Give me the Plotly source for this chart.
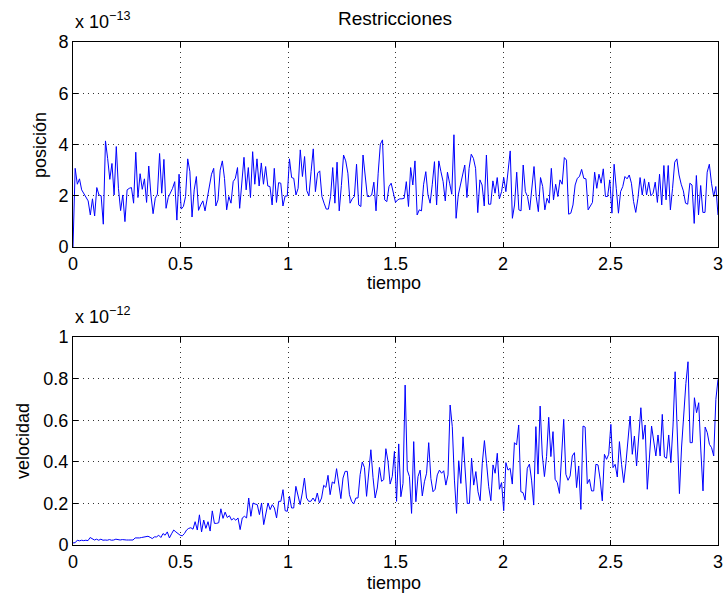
import numpy as np
import plotly.graph_objects as go

# posición (x 1e-13)
posicion = [
 0, 3.07, 2.45, 2.66, 2.23, 2.07, 1.93, 1.8, 1.25, 1.88, 1.21, 2.32, 2.03, 2.0, 0.89, 4.14, 3.46, 2.64, 3.26, 2.03,
 3.92, 2.29, 1.42, 2.03, 0.99, 2.23, 2.29, 2.32, 1.71, 3.7, 1.93, 2.86, 2.25, 2.66, 1.74, 3.16, 2.03, 1.3, 1.9, 2.06,
 3.65, 2.1, 3.42, 1.51, 1.93, 2.1, 2.29, 2.55, 1.05, 2.84, 1.48, 1.58, 1.97, 3.44, 2.94, 1.17, 2.23, 2.75, 1.43, 1.64,
 1.8, 1.41, 1.84, 2.33, 2.84, 3.07, 1.6, 1.84, 3.0, 3.36, 2.67, 1.45, 1.97, 1.71,
 2.55, 2.68, 3.1, 1.51, 2.49, 3.5, 2.23, 3.1, 1.93, 3.72, 2.45, 3.44, 2.38, 3.28, 2.45, 3.14, 2.38, 2.36, 1.64, 3.07,
 1.74, 2.51, 2.49, 1.6, 1.99, 1.99, 3.44, 2.71, 2.68, 2.03, 2.29, 3.79, 2.75, 3.53, 2.2, 2.0, 2.94, 3.83, 2.16, 2.88,
 2.97, 1.97, 1.71, 1.48, 1.48, 1.97, 3.1, 1.71, 3.31, 1.41, 2.4, 3.59, 3.36, 2.88, 1.71, 1.88, 1.97, 3.23, 1.64, 1.58,
 3.59, 2.88, 1.97, 1.97, 2.03, 2.53, 1.41, 2.88, 4.01, 4.18, 1.84, 1.77, 2.36, 2.49, 2.16, 1.74,
 1.84, 1.88, 1.88, 1.9, 2.55, 1.58, 3.1, 2.42, 3.36, 1.25, 1.45, 1.41, 2.45, 2.94, 2.03, 1.71, 2.45, 3.33, 1.64, 3.36,
 2.94, 2.55, 1.8, 2.92, 2.49, 2.06, 4.38, 1.12, 2.03, 2.42, 2.68, 3.2, 1.93, 3.07, 3.62, 3.46, 3.07, 1.34, 2.62, 2.42,
 1.6, 3.59, 1.67, 1.67, 2.58, 2.1, 2.71, 1.88, 2.16, 2.71, 2.16, 3.07, 3.75, 1.12, 1.64, 2.92, 1.45, 1.41, 3.2, 2.16,
 1.97, 1.45, 2.29, 3.14, 1.97, 1.38, 2.71, 2.36, 1.45, 1.9, 1.71, 3.07, 1.84, 2.45, 1.97,
 2.62, 2.45, 3.49, 3.39, 1.28, 1.32, 1.64, 2.42, 2.68, 2.75, 3.03, 2.68, 2.66, 1.45, 1.58, 1.74, 2.92, 2.29, 2.84, 2.49,
 3.05, 1.97, 1.97, 2.62, 1.32, 3.23, 2.29, 1.32, 2.16, 2.36, 2.75, 2.66, 2.81, 2.49, 1.77, 1.35, 1.9, 2.71, 2.03, 2.66,
 2.03, 2.53, 2.0, 2.1, 2.53, 1.74, 2.84, 1.64, 3.18, 1.84, 3.18, 1.45, 2.29, 3.31, 3.44, 2.81, 2.45, 2.19, 1.71, 1.67,
 2.49, 2.42, 0.92, 2.79, 1.25, 2.4, 1.35, 1.35, 2.92, 3.23, 2.49, 1.97, 2.36, 1.25,
]

# velocidad (x 1e-12)
velocidad = [
 0.01, 0.011, 0.023, 0.02, 0.023, 0.021, 0.023, 0.021, 0.036, 0.028, 0.024, 0.028, 0.023, 0.028, 0.023, 0.024, 0.023,
 0.026, 0.023, 0.024, 0.028, 0.026, 0.024, 0.026, 0.024, 0.024, 0.024, 0.023, 0.024, 0.034, 0.033, 0.034, 0.036, 0.037,
 0.039, 0.042, 0.037, 0.031, 0.039, 0.039, 0.047, 0.036, 0.055, 0.047, 0.063, 0.034, 0.054, 0.072, 0.063, 0.055, 0.047,
 0.044, 0.055, 0.072, 0.08, 0.083, 0.076, 0.112, 0.072, 0.145, 0.063, 0.12, 0.08, 0.112, 0.067, 0.164, 0.104, 0.104,
 0.107, 0.174, 0.128, 0.158, 0.132, 0.141, 0.12, 0.128, 0.119,
 0.13, 0.074, 0.13, 0.138, 0.13, 0.226, 0.138, 0.202, 0.197, 0.194, 0.146, 0.202, 0.098, 0.154, 0.202, 0.17, 0.194,
 0.178, 0.13, 0.21, 0.21, 0.266, 0.165, 0.162, 0.234, 0.178, 0.178, 0.282, 0.234, 0.194, 0.25, 0.322, 0.226, 0.21, 0.21,
 0.226, 0.21, 0.25, 0.202, 0.226, 0.287, 0.277, 0.335, 0.242, 0.303, 0.296, 0.367, 0.29, 0.223, 0.322, 0.354, 0.354,
 0.242, 0.21, 0.197, 0.226, 0.226, 0.338, 0.399, 0.373, 0.234, 0.346, 0.458, 0.325, 0.226, 0.274, 0.373, 0.306, 0.314,
 0.463, 0.402, 0.293, 0.33, 0.45, 0.21, 0.486,
 0.232, 0.296, 0.769, 0.36, 0.329, 0.152, 0.497, 0.208, 0.329, 0.36, 0.236, 0.304, 0.345, 0.492, 0.32, 0.256, 0.268,
 0.337, 0.36, 0.345, 0.357, 0.288, 0.337, 0.673, 0.569, 0.312, 0.152, 0.405, 0.296, 0.52, 0.377, 0.2, 0.2, 0.417, 0.288,
 0.353, 0.256, 0.213, 0.393, 0.502, 0.393, 0.28, 0.213, 0.385, 0.345, 0.441, 0.268, 0.3, 0.165, 0.396, 0.36, 0.369,
 0.293, 0.492, 0.481, 0.577, 0.256, 0.252, 0.216, 0.369, 0.389, 0.312, 0.192, 0.569, 0.341, 0.668, 0.433, 0.329, 0.425,
 0.614, 0.425, 0.545, 0.316, 0.3, 0.248,
 0.452, 0.604, 0.34, 0.311, 0.332, 0.428, 0.444, 0.276, 0.38, 0.171, 0.572, 0.567, 0.295, 0.316, 0.26, 0.26, 0.388,
 0.385, 0.316, 0.212, 0.436, 0.412, 0.436, 0.58, 0.372, 0.388, 0.327, 0.497, 0.388, 0.3, 0.391, 0.5, 0.62, 0.436, 0.524,
 0.38, 0.503, 0.66, 0.508, 0.577, 0.268, 0.452, 0.572, 0.5, 0.428, 0.529, 0.428, 0.628, 0.423, 0.417, 0.529, 0.396,
 0.572, 0.833, 0.572, 0.247, 0.471, 0.644, 0.776, 0.881, 0.492, 0.492, 0.708, 0.636, 0.684, 0.452, 0.26, 0.567, 0.54,
 0.484, 0.468, 0.428, 0.7, 0.796,
]

t_pos = np.linspace(0, 3, len(posicion))
t_vel = np.linspace(0, 3, len(velocidad))

x_ticks = [0, 0.5, 1, 1.5, 2, 2.5, 3]
x_ticklabels = ["0", "0.5", "1", "1.5", "2", "2.5", "3"]
pos_ticks = [0, 2, 4, 6, 8]
vel_ticks = [0, 0.2, 0.4, 0.6, 0.8, 1]

W, H = 724, 597
L, R = 73, 718
FONT = "Liberation Sans, Arial, Helvetica, sans-serif"
FS = 18

fig = go.Figure()
fig.add_trace(go.Scatter(x=t_pos, y=posicion, mode="lines",
                         line=dict(color="#0000FF", width=1), xaxis="x", yaxis="y", showlegend=False))
fig.add_trace(go.Scatter(x=t_vel, y=velocidad, mode="lines",
                         line=dict(color="#0000FF", width=1), xaxis="x2", yaxis="y2", showlegend=False))

def xp(px): return (px - L) / (R - L)   # paper x inside plot area
def yd(py): return 1 - py / H

GRID_DASH = "1px,4px"
common_x = dict(range=[0, 3], tickvals=x_ticks, ticktext=x_ticklabels, showgrid=True,
                gridcolor="#333333", griddash=GRID_DASH, gridwidth=1, zeroline=False,
                showline=True, linecolor="black", linewidth=1, mirror="ticks",
                ticks="inside", ticklen=5, tickcolor="black", automargin=False,
                tickfont=dict(size=FS, color="black", family=FONT),
                domain=[0, 1])
common_y = dict(showgrid=True, gridcolor="#333333", griddash=GRID_DASH, gridwidth=1, zeroline=False,
                showline=True, linecolor="black", linewidth=1, mirror="ticks",
                ticks="inside", ticklen=5, tickcolor="black", automargin=False,
                tickfont=dict(size=FS, color="black", family=FONT))

def ann(text, x, y, size=FS, **kw):
    d = dict(text=text, x=x, y=y, xref="paper", yref="paper", showarrow=False,
             font=dict(size=size, family=FONT, color="black"), xanchor="center", yanchor="middle")
    d.update(kw)
    return d

fig.update_layout(
    width=W, height=H, margin=dict(l=L, r=W - R, t=0, b=0, autoexpand=False),
    paper_bgcolor="white", plot_bgcolor="white",
    font=dict(family=FONT, size=FS, color="black"),
    xaxis=dict(**common_x, anchor="y"),
    yaxis=dict(**common_y, range=[0, 8], tickvals=pos_ticks, anchor="x",
               domain=[yd(247), yd(42)]),
    xaxis2=dict(**common_x, anchor="y2"),
    yaxis2=dict(**common_y, range=[0, 1], tickvals=vel_ticks, anchor="x2",
                domain=[yd(545), yd(337)]),
    annotations=[
        ann("Restricciones", xp(395), yd(18), size=19),
        ann("x 10<sup>−13</sup>", xp(73), yd(20), xanchor="left"),
        ann("x 10<sup>−12</sup>", xp(73), yd(315), xanchor="left"),
        ann("tiempo", xp(394), yd(283)),
        ann("tiempo", xp(394), yd(583)),
        ann("posición", xp(40), yd(145), textangle=-90),
        ann("velocidad", xp(23), yd(441), textangle=-90),
    ],
)

fig.write_html("out.html", config={"displayModeBar": False},
               post_script="document.body.style.margin='0';document.body.style.overflow='hidden';")
